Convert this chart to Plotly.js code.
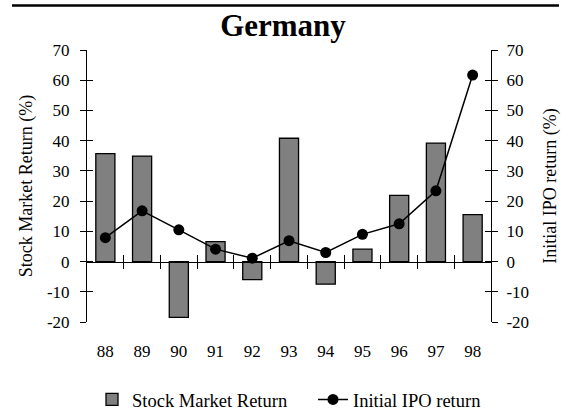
<!DOCTYPE html>
<html>
<head>
<meta charset="utf-8">
<script src="https://cdn.plot.ly/plotly-3.0.1.min.js"></script>
<style>html,body{margin:0;padding:0;background:#fff;}#chart{width:570px;height:417px;}</style>
</head>
<body>
<div id="chart"></div>
<script>
var years = ["88","89","90","91","92","93","94","95","96","97","98"];
var stockReturn = [35.7, 34.9, -18.5, 6.6, -6.0, 40.8, -7.5, 4.1, 21.9, 39.2, 15.5];
var ipoReturn = [7.9, 16.8, 10.5, 4.1, 1.1, 6.9, 3.0, 9.0, 12.5, 23.4, 61.7];
var yTickVals = [-20, -10, 0, 10, 20, 30, 40, 50, 60, 70];
var yTickText = ["-20", "-10", "0", "10", "20", "30", "40", "50", "60", "70"];
var boundaryTicks = [0.5, 1.5, 2.5, 3.5, 4.5, 5.5, 6.5, 7.5, 8.5, 9.5];

var FONT = '"Liberation Serif", "Times New Roman", serif';

function helper(xa, ya) {
  return {type: 'scatter', mode: 'markers', x: [null], y: [null], xaxis: xa, yaxis: ya,
          showlegend: false, hoverinfo: 'skip', marker: {opacity: 0}};
}

var traces = [
  {
    type: 'bar', x: years, y: stockReturn, name: 'Stock Market Return',
    xaxis: 'x', yaxis: 'y', width: 0.52, legendwidth: 176,
    marker: {color: '#808080', line: {color: '#000', width: 1.3}}
  },
  helper('x2', 'y'),
  helper('x3', 'y'),
  helper('x', 'y3'),
  helper('x', 'y4'),
  {
    type: 'scatter', mode: 'lines+markers', x: years, y: ipoReturn, name: 'Initial IPO return',
    xaxis: 'x', yaxis: 'y2',
    line: {color: '#000', width: 1.5},
    marker: {color: '#000', size: 11}
  }
];

var yCommon = {range: [-20, 70], tickmode: 'array', tickvals: yTickVals, ticktext: yTickText,
               showgrid: false, zeroline: false, fixedrange: true};

var layout = {
  width: 570, height: 417,
  margin: {l: 87, r: 79, t: 49.5, b: 95, autoexpand: false},
  paper_bgcolor: '#fff', plot_bgcolor: '#fff',
  font: {family: FONT, size: 17, color: '#000'},
  showlegend: true,
  title: {text: '<b>Germany</b>', font: {family: FONT, size: 31, color: '#000'},
          x: 283 / 570, xref: 'container', xanchor: 'center', y: 1 - 25/417, yref: 'container', yanchor: 'middle'},
  xaxis: {type: 'category', range: [-0.5, 10.5], showline: false, ticks: '', showgrid: false,
          zeroline: false, tickfont: {size: 17}, ticklabelstandoff: 17},
  xaxis2: {overlaying: 'x', anchor: 'free', position: 2/9, type: 'linear', range: [-0.5, 10.5],
           tickmode: 'array', tickvals: boundaryTicks, ticks: 'outside', ticklen: 6, tickwidth: 1,
           tickcolor: '#000', showticklabels: false, showline: true, linecolor: '#000', linewidth: 1,
           showgrid: false, zeroline: false},
  xaxis3: {overlaying: 'x', anchor: 'free', position: 2/9, type: 'linear', range: [-0.5, 10.5],
           tickmode: 'array', tickvals: boundaryTicks, ticks: 'inside', ticklen: 7, tickwidth: 1,
           tickcolor: '#000', showticklabels: false, showline: false, showgrid: false, zeroline: false},
  yaxis: Object.assign({}, yCommon, {side: 'left', ticks: 'outside', ticklen: 6, tickcolor: '#000',
          showline: true, linecolor: '#000', linewidth: 1, ticklabelstandoff: 7,
          title: {text: 'Stock Market Return (%)', font: {size: 18}, standoff: 9}}),
  yaxis3: Object.assign({}, yCommon, {overlaying: 'y', side: 'left', anchor: 'x', ticks: 'inside', ticklen: 6,
          tickcolor: '#000', showticklabels: false, showline: false}),
  yaxis2: Object.assign({}, yCommon, {overlaying: 'y', side: 'right', anchor: 'x', ticks: 'outside', ticklen: 6,
          tickcolor: '#000', showline: true, linecolor: '#000', linewidth: 1, ticklabelstandoff: 5,
          title: {text: 'Initial IPO return (%)', font: {size: 18}, standoff: 15}}),
  yaxis4: Object.assign({}, yCommon, {overlaying: 'y', side: 'right', anchor: 'x', ticks: 'inside', ticklen: 6,
          tickcolor: '#000', showticklabels: false, showline: false}),
  legend: {orientation: 'h', x: (92 - 87) / 404, xanchor: 'left', y: (322 - 400) / 272.5, yanchor: 'middle',
           font: {size: 18.5}, itemwidth: 30, bgcolor: 'rgba(0,0,0,0)', traceorder: 'normal'},
  shapes: [
    {type: 'line', xref: 'paper', yref: 'paper', x0: (12 - 87) / 404, x1: (559 - 87) / 404,
     y0: (322 - 5) / 272.5, y1: (322 - 5) / 272.5, line: {color: '#000', width: 2.5}}
  ]
};

Plotly.newPlot('chart', traces, layout, {displayModeBar: false, staticPlot: true});
</script>
</body>
</html>
